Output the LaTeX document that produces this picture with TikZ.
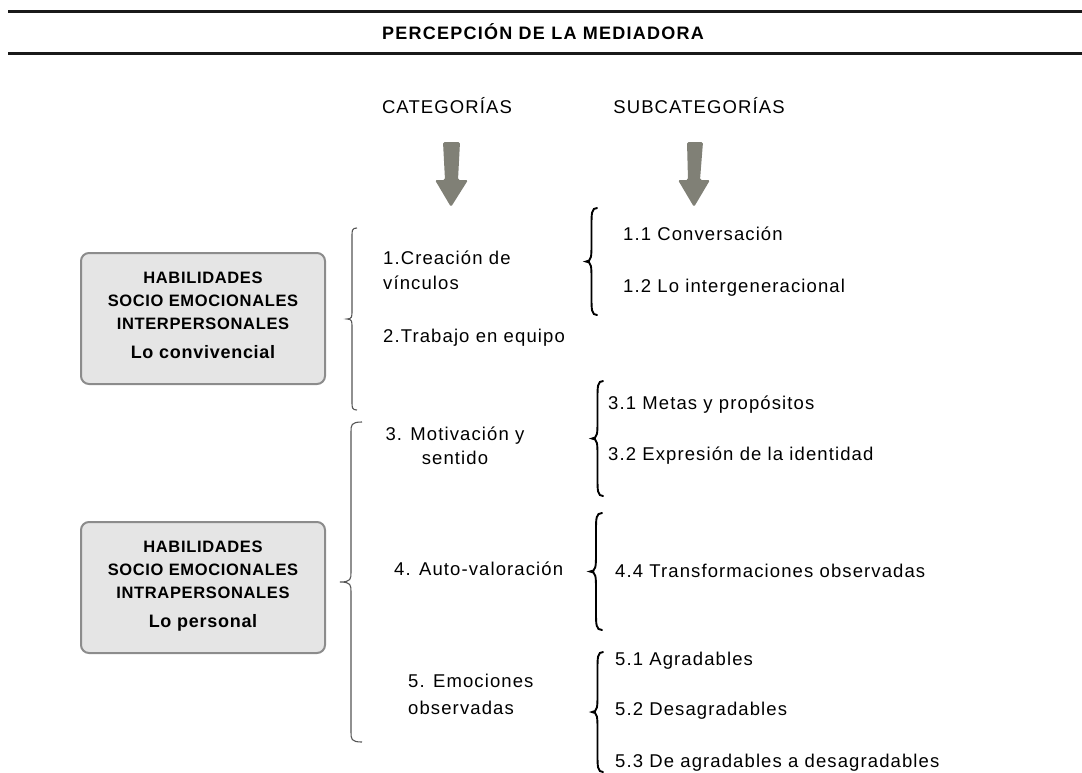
\documentclass[tikz,border=0pt]{standalone}
\usepackage{fontspec}
\setmainfont{Liberation Sans}
\newfontfamily\regf[LetterSpace=6]{Liberation Sans}
\newfontfamily\boxf[LetterSpace=4]{Liberation Sans}
\newfontfamily\titf[LetterSpace=7]{Liberation Sans}
\definecolor{arrowgray}{RGB}{128,128,118}
\definecolor{boxfill}{RGB}{229,229,229}
\definecolor{boxline}{RGB}{140,140,140}
\definecolor{bracegray}{RGB}{85,85,85}
\definecolor{rulecol}{RGB}{25,25,25}
\newcommand{\mybrace}[6]{% style, x ends, x tip, y top, y bottom, r
  \pgfmathsetmacro{\bxm}{(#2+#3)/2}%
  \pgfmathsetmacro{\bym}{(#4+#5)/2}%
  \draw[#1] (#2,#4) .. controls (\bxm,#4) and (\bxm,#4+0.3*#6) .. (\bxm,#4+#6)
    -- (\bxm,\bym-#6) .. controls (\bxm,\bym-0.3*#6) and (\bxm,\bym) .. (#3,\bym)
    .. controls (\bxm,\bym) and (\bxm,\bym+0.3*#6) .. (\bxm,\bym+#6)
    -- (\bxm,#5-#6) .. controls (\bxm,#5-0.3*#6) and (\bxm,#5) .. (#2,#5);
}
\begin{document}
\begin{tikzpicture}[x=1pt,y=-1pt,
  txt/.style={font=\regf\fontsize{18.5}{22}\selectfont, inner sep=0pt, anchor=base west},
  ctxt/.style={txt, anchor=base},
  boxtxt/.style={font=\boxf\bfseries\fontsize{16.5}{20}\selectfont, inner sep=0pt, anchor=base},
  boxsub/.style={font=\boxf\bfseries\fontsize{18}{22}\selectfont, inner sep=0pt, anchor=base},
  grpbox/.style={draw=boxline, fill=boxfill, line width=2pt, rounded corners=8pt,
                 minimum width=244pt, minimum height=131pt, inner sep=0pt},
  thinbrace/.style={draw=bracegray, line width=1.1pt},
  thickbrace/.style={draw=black, line width=1.9pt, line cap=round},
  bigarrow/.style={fill=arrowgray, rounded corners=1.5pt}
]
\useasboundingbox (0,0) rectangle (1082,772);

% header
\draw[rulecol, line width=3pt] (8,11) -- (1082,11);
\draw[rulecol, line width=3pt] (8,53) -- (1082,53);
\node[font=\titf\bfseries\fontsize{18}{22}\selectfont, inner sep=0pt, anchor=base] (title) at (543,39.5) {PERCEPCIÓN DE LA MEDIADORA};

% column heads
\node[ctxt] (hcat) at (447,113.5) {CATEGORÍAS};
\node[ctxt] (hsub) at (699,113.5) {SUBCATEGORÍAS};

% arrows
\fill[bigarrow] (443,142) -- (460,142) -- (458,180) -- (468,180) -- (451,207) -- (435,180) -- (445,180) -- cycle;
\fill[bigarrow] (687,142) -- (703,142) -- (700,180) -- (710,180) -- (694,207) -- (678,180) -- (688,180) -- cycle;

% boxes
\node[grpbox] (box1) at (203,318.5) {};
\node[boxtxt] (b1a) at (203,283) {HABILIDADES};
\node[boxtxt] (b1b) at (203,306) {SOCIO EMOCIONALES};
\node[boxtxt] (b1c) at (203,329) {INTERPERSONALES};
\node[boxsub] (b1d) at (203,358) {Lo convivencial};

\node[grpbox] (box2) at (203,587.5) {};
\node[boxtxt] (b2a) at (203,552) {HABILIDADES};
\node[boxtxt] (b2b) at (203,575) {SOCIO EMOCIONALES};
\node[boxtxt] (b2c) at (203,598) {INTRAPERSONALES};
\node[boxsub] (b2d) at (203,627) {Lo personal};

% category braces
\mybrace{thinbrace}{357}{347}{228}{410}{8}
\mybrace{thinbrace}{362}{340}{422}{742}{10}

% categories
\node[txt] (c1a) at (383,264) {1.Creación de};
\node[txt] (c1b) at (383,289) {vínculos};
\node[txt] (c2) at (383,342) {2.Trabajo en equipo};
\node[ctxt] (c3a) at (455,440) {3. Motivación y};
\node[ctxt] (c3b) at (455,464) {sentido};
\node[txt] (c4) at (394,575) {4. Auto-valoración};
\node[txt] (c5a) at (408,687) {5. Emociones};
\node[txt] (c5b) at (408,714) {observadas};

% subcategory braces
\mybrace{thickbrace}{597}{586}{208}{315}{18}
\mybrace{thickbrace}{603}{592}{381}{496}{18}
\mybrace{thickbrace}{602}{590}{513}{630}{18}
\mybrace{thickbrace}{603}{592}{652}{772}{18}

% subcategories
\node[txt] (s11) at (623,240) {1.1 Conversación};
\node[txt] (s12) at (623,292) {1.2 Lo intergeneracional};
\node[txt] (s31) at (608,409) {3.1 Metas y propósitos};
\node[txt] (s32) at (608,460) {3.2 Expresión de la identidad};
\node[txt] (s44) at (615,577) {4.4 Transformaciones observadas};
\node[txt] (s51) at (615,665) {5.1 Agradables};
\node[txt] (s52) at (615,715) {5.2 Desagradables};
\node[txt] (s53) at (615,767) {5.3 De agradables a desagradables};
\end{tikzpicture}
\end{document}
